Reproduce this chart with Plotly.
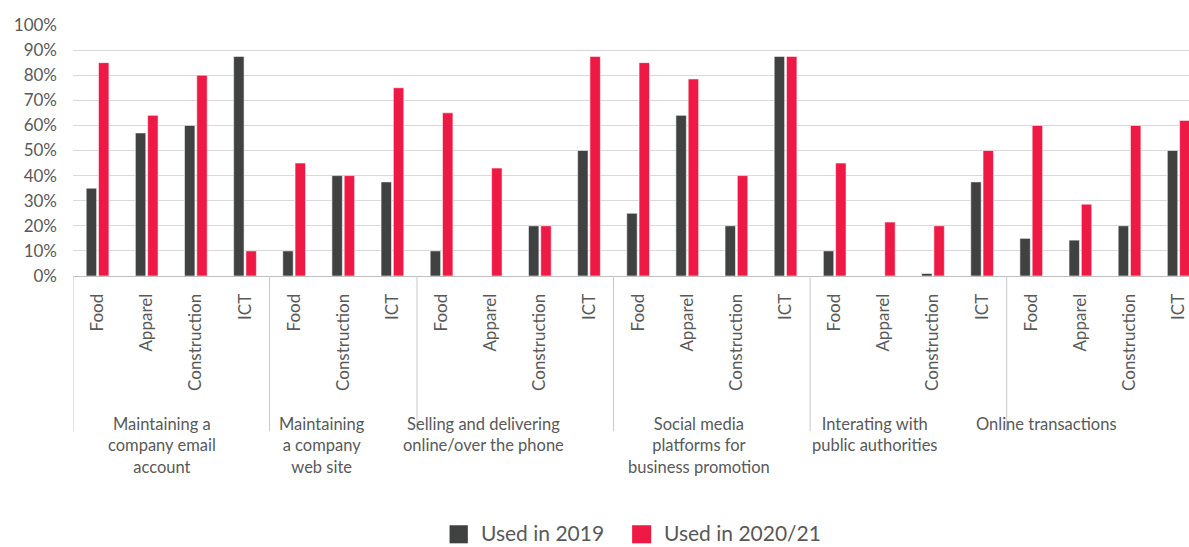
import plotly.graph_objects as go

# Activity groups and the sectors surveyed in each
groups = [
    "Maintaining a<br>company email<br>account",
    "Maintaining<br>a company<br>web site",
    "Selling and delivering<br>online/over the phone",
    "Social media<br>platforms for<br>business promotion",
    "Interating with<br>public authorities",
    "Online transactions",
]
sectors = [
    ["Food", "Apparel", "Construction", "ICT"],
    ["Food", "Construction", "ICT"],
    ["Food", "Apparel", "Construction", "ICT"],
    ["Food", "Apparel", "Construction", "ICT"],
    ["Food", "Apparel", "Construction", "ICT"],
    ["Food", "Apparel", "Construction", "ICT"],
]
used_2019 = [
    [35, 57, 60, 87.5],
    [10, 40, 37.5],
    [10, 0, 20, 50],
    [25, 64, 20, 87.5],
    [10, 0, 1, 37.5],
    [15, 14.3, 20, 50],
]
used_2020_21 = [
    [85, 64, 80, 10],
    [45, 40, 75],
    [65, 43, 20, 87.5],
    [85, 78.5, 40, 87.5],
    [45, 21.5, 20, 50],
    [60, 28.6, 60, 62],
]
series_names = ["Used in 2019", "Used in 2020/21"]

# Styling
DARK = "#404241"
RED = "#ee1944"
TEXT = "#595959"
FONT = "Lato, 'Open Sans', sans-serif"

# Flatten groups into consecutive x positions
x_pos, tick_text, v19, v20, bounds = [], [], [], [], [-0.5]
i = 0
for secs, a, b in zip(sectors, used_2019, used_2020_21):
    for s, va, vb in zip(secs, a, b):
        x_pos.append(i)
        tick_text.append(s)
        v19.append(va)
        v20.append(vb)
        i += 1
    bounds.append(i - 0.5)

fig = go.Figure()
bar_line = dict(color="rgba(255,255,255,0.55)", width=1)
fig.add_trace(go.Bar(x=x_pos, y=v19, name=series_names[0],
                     marker=dict(color=DARK, line=bar_line)))
fig.add_trace(go.Bar(x=x_pos, y=v20, name=series_names[1],
                     marker=dict(color=RED, line=bar_line)))

# Group separators below the axis
shapes = []
for bx in bounds[:-1]:
    shapes.append(dict(type="line", xref="x", yref="paper",
                       x0=bx, x1=bx, y0=0, y1=-0.619,
                       line=dict(color="#c8c8c8", width=1)))

# Group captions
label_x = [1.317, 4.571, 7.857, 12.232, 15.82, 19.319]
annotations = []
for g, lx in zip(groups, label_x):
    annotations.append(dict(text=g, x=lx, xref="x", y=-0.54, yref="paper",
                            xanchor="center", yanchor="top", showarrow=False,
                            align="center",
                            font=dict(family=FONT, size=16.5, color=TEXT)))

# Legend drawn as swatches + labels
legend_items = [(DARK, 0.3374, 0.3538, 0.3649), (RED, 0.5010, 0.5181, 0.5288)]
for (col, x0, x1, tx), name in zip(legend_items, series_names):
    shapes.append(dict(type="rect", xref="paper", yref="paper",
                       x0=x0, x1=x1, y0=-0.993, y1=-1.065,
                       fillcolor=col, line=dict(width=0)))
    annotations.append(dict(text=name, x=tx, xref="paper", y=-1.074, yref="paper",
                            xanchor="left", yanchor="bottom", showarrow=False,
                            borderpad=0,
                            font=dict(family=FONT, size=21, color=TEXT)))

fig.update_layout(
    width=1189, height=547,
    margin=dict(l=73, r=0, t=25, b=271),
    paper_bgcolor="white", plot_bgcolor="white",
    barmode="group", bargap=0.5, bargroupgap=0.15,
    showlegend=False,
    shapes=shapes, annotations=annotations,
    font=dict(family=FONT, size=16, color=TEXT),
)
fig.update_xaxes(
    range=[-0.5, 22.21], tickmode="array", tickvals=x_pos, ticktext=tick_text,
    tickangle=-90, showgrid=False, zeroline=False,
    showline=True, linecolor="#bfbfbf", linewidth=1,
    ticks="", ticklabelstandoff=10,
    tickfont=dict(family=FONT, size=17, color=TEXT),
)
fig.update_yaxes(
    range=[0, 100], dtick=10, ticksuffix="%",
    showgrid=True, gridcolor="#d9d9d9", gridwidth=1,
    zeroline=False, showline=False, ticks="", ticklabelstandoff=15,
    tickfont=dict(family=FONT, size=17, color=TEXT),
)

fig.write_html("out.html")
